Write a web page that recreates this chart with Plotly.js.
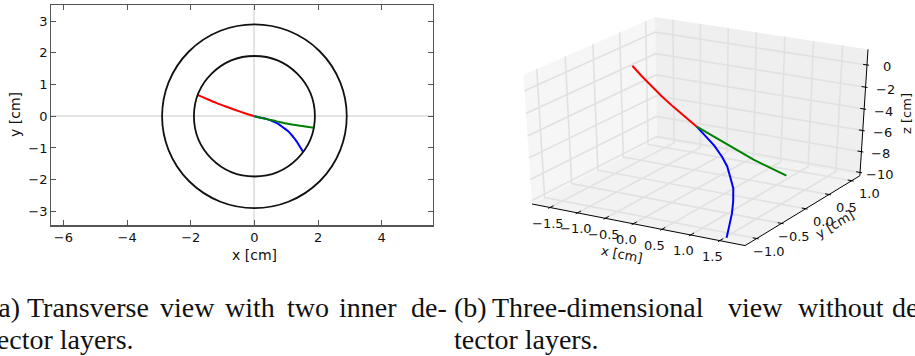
<!DOCTYPE html>
<html>
<head>
<meta charset="utf-8">
<script src="https://cdn.plot.ly/plotly-3.0.1.min.js"></script>
<style>
  html, body { margin: 0; padding: 0; background: #ffffff; }
  #chart { width: 915px; height: 356px; }
</style>
</head>
<body>
<div id="chart"></div>
<script>
// Reconstructed tracks: transverse coordinates (cm) and position along the beam axis (cm)
const redX   = [0, -0.30, -0.60, -0.90, -1.20, -1.49, -1.78];
const redY   = [0, 0.095, 0.197, 0.306, 0.421, 0.544, 0.673];
const redZ   = [-4.5, -4.08, -3.66, -3.24, -2.81, -2.39, -1.97];

const greenX = [0, 0.20, 0.39, 0.60, 0.81, 1.02, 1.23, 1.44, 1.65, 1.87];
const greenY = [0, -0.045, -0.09, -0.135, -0.19, -0.23, -0.27, -0.30, -0.33, -0.36];
const greenZ = [-4.5, -4.70, -4.89, -5.09, -5.30, -5.51, -5.72, -5.92, -6.13, -6.34];

const blueX  = [0, 0.20, 0.39, 0.60, 0.76, 0.91, 1.07, 1.21, 1.33, 1.44, 1.53];
const blueY  = [0, -0.045, -0.09, -0.17, -0.25, -0.36, -0.48, -0.64, -0.80, -0.98, -1.13];
const blueZ  = [-4.5, -5.10, -5.67, -6.32, -6.84, -7.38, -7.97, -8.58, -9.17, -9.78, -10.29];

// Inner detector layer radii (cm)
const layerRadii = [1.9, 2.9];

// Tick values / labels
const xTicks2d = [-6, -4, -2, 0, 2, 4];
const yTicks2d = [-3, -2, -1, 0, 1, 2, 3];
const xTicks3d = [-1.5, -1.0, -0.5, 0.0, 0.5, 1.0, 1.5];
const xLabels3d = ['\u22121.5', '\u22121.0', '\u22120.5', '0.0', '0.5', '1.0', '1.5'];
const yTicks3d = [-1.0, -0.5, 0.0, 0.5, 1.0];
const yLabels3d = ['\u22121.0', '\u22120.5', '0.0', '0.5', '1.0'];
const zTicks3d = [-10, -8, -6, -4, -2, 0];
const zLabels3d = ['\u221210', '\u22128', '\u22126', '\u22124', '\u22122', '0'];

// Caption text
const capA1 = ['(a)', 'Transverse', 'view', 'with', 'two', 'inner', 'de-'];
const capA2 = 'tector layers.';
const capB1 = ['(b)', 'Three-dimensional', 'view', 'without', 'de'];
const capB2 = 'tector layers.';

const W = 915, H = 356;
const px = v => v / W;
const py = v => 1 - v / H;

const sans = 'DejaVu Sans, sans-serif';
const serif = 'Liberation Serif, Times New Roman, serif';
const frame = '#555555';

// ---------- 3D box: limits, viewing angles and placement on the page ----------
const box3d = { x: [-1.829, 1.930], y: [-1.228, 1.184], z: [-10.32, 1.38] };
const view3d = { azim: -60, elev: 30, dist: 10 };
const place3d = { cx: 698.5, cy: 127.4, sx: 245.9, sy: 147.4 };

const rad = Math.PI / 180;
const az = view3d.azim * rad, el = view3d.elev * rad;
const nDir = [Math.cos(el) * Math.cos(az), Math.cos(el) * Math.sin(az), Math.sin(el)];
const uDir = [-Math.sin(az), Math.cos(az), 0];
const vDir = [
  nDir[1] * uDir[2] - nDir[2] * uDir[1],
  nDir[2] * uDir[0] - nDir[0] * uDir[2],
  nDir[0] * uDir[1] - nDir[1] * uDir[0]
];
const dot = (a, b) => a[0] * b[0] + a[1] * b[1] + a[2] * b[2];

// perspective projection of a data point to page pixels
function proj(x, y, z) {
  const q = [
    (x - box3d.x[0]) / (box3d.x[1] - box3d.x[0]) - 0.5,
    (y - box3d.y[0]) / (box3d.y[1] - box3d.y[0]) - 0.5,
    (z - box3d.z[0]) / (box3d.z[1] - box3d.z[0]) - 0.5
  ];
  const f = 1 / (1 - dot(nDir, q) / view3d.dist);
  return [place3d.cx + place3d.sx * dot(uDir, q) * f, place3d.cy - place3d.sy * dot(vDir, q) * f];
}

function polyline(points) {
  const xs = [], ys = [];
  points.forEach(p => { const s = proj(p[0], p[1], p[2]); xs.push(s[0]); ys.push(s[1]); });
  return { xs, ys };
}
function segments(list) {
  const xs = [], ys = [];
  list.forEach(seg => {
    seg.forEach(p => { xs.push(p[0]); ys.push(p[1]); });
    xs.push(null); ys.push(null);
  });
  return { xs, ys };
}

const [X0, X1] = box3d.x, [Y0, Y1] = box3d.y, [Z0, Z1] = box3d.z;

// ---------- traces ----------
const track2d = (x, y, color) => ({
  type: 'scatter', mode: 'lines', x: x, y: y, xaxis: 'x', yaxis: 'y',
  line: { color: color, width: 2, shape: 'spline', smoothing: 0.8 },
  hoverinfo: 'skip', showlegend: false
});

const on3d = (xs, ys, extra) => Object.assign({
  type: 'scatter', mode: 'lines', x: xs, y: ys, xaxis: 'x2', yaxis: 'y2',
  hoverinfo: 'skip', showlegend: false
}, extra);

const pane = (corners, color) => {
  const p = polyline(corners.concat([corners[0]]));
  return on3d(p.xs, p.ys, { fill: 'toself', fillcolor: color, line: { width: 0, color: color } });
};

const data = [
  track2d(redX, redY, '#ff0000'),
  track2d(blueX, blueY, '#0000ff'),
  track2d(greenX, greenY, '#008000')
];

// panes
data.push(pane([[X0, Y0, Z0], [X0, Y1, Z0], [X0, Y1, Z1], [X0, Y0, Z1]], '#f6f6f6'));
data.push(pane([[X0, Y1, Z0], [X1, Y1, Z0], [X1, Y1, Z1], [X0, Y1, Z1]], '#efefef'));
data.push(pane([[X0, Y0, Z0], [X1, Y0, Z0], [X1, Y1, Z0], [X0, Y1, Z0]], '#f2f2f2'));

// grid lines on the panes
const grid = [];
xTicks3d.forEach(t => {
  grid.push([proj(t, Y0, Z0), proj(t, Y1, Z0), proj(t, Y1, Z1)]);
});
yTicks3d.forEach(t => {
  grid.push([proj(X1, t, Z0), proj(X0, t, Z0), proj(X0, t, Z1)]);
});
zTicks3d.forEach(t => {
  grid.push([proj(X0, Y0, t), proj(X0, Y1, t), proj(X1, Y1, t)]);
});
const g = segments(grid);
data.push(on3d(g.xs, g.ys, { line: { color: '#e1e1e1', width: 1.6 } }));

// axis lines
const ax = segments([
  [proj(X0, Y0, Z0), proj(X1, Y0, Z0)],
  [proj(X1, Y0, Z0), proj(X1, Y1, Z0)],
  [proj(X1, Y1, Z0), proj(X1, Y1, Z1)]
]);
data.push(on3d(ax.xs, ax.ys, { line: { color: '#000000', width: 1 } }));

// tick marks: longer towards the inside of the box
function tickSeg(p, q, inward, outward) {
  const a = proj(p[0], p[1], p[2]), b = proj(q[0], q[1], q[2]);
  const dx = b[0] - a[0], dy = b[1] - a[1], L = Math.hypot(dx, dy);
  return [[a[0] - dx / L * outward, a[1] - dy / L * outward], [a[0] + dx / L * inward, a[1] + dy / L * inward]];
}
const tickList = [];
xTicks3d.forEach(t => tickList.push(tickSeg([t, Y0, Z0], [t, Y1, Z0], 4, 2)));
yTicks3d.forEach(t => tickList.push(tickSeg([X1, t, Z0], [X0, t, Z0], 4, 2)));
zTicks3d.forEach(t => tickList.push(tickSeg([X1, Y1, t], [X0, Y1, t], 4, 2)));
const tk = segments(tickList);
data.push(on3d(tk.xs, tk.ys, { line: { color: '#000000', width: 1 } }));

// tracks in 3D
[[redX, redY, redZ, '#ff0000'], [blueX, blueY, blueZ, '#0000ff'], [greenX, greenY, greenZ, '#008000']]
  .forEach(tr => {
    const pts = tr[0].map((v, i) => [v, tr[1][i], tr[2][i]]);
    const p = polyline(pts);
    data.push(on3d(p.xs, p.ys, { line: { color: tr[3], width: 2 } }));
  });

// ---------- annotations ----------
const annotations = [];
const tickFont = { family: sans, size: 13, color: '#111' };
const titleFont = { family: sans, size: 14, color: '#111' };

// axis titles of the transverse view
annotations.push({ xref: 'paper', yref: 'paper', x: px(254), y: py(255), text: 'x [cm]',
  showarrow: false, xanchor: 'center', yanchor: 'middle', font: titleFont });
annotations.push({ xref: 'paper', yref: 'paper', x: px(15), y: py(115), text: 'y [cm]', textangle: -90,
  showarrow: false, xanchor: 'center', yanchor: 'middle', font: titleFont });

// 3D tick labels
const label3d = (pt, text, dx, dy, xanchor) => {
  const s = proj(pt[0], pt[1], pt[2]);
  annotations.push({ xref: 'x2', yref: 'y2', x: s[0] + dx, y: s[1] + dy, text: text,
    showarrow: false, xanchor: xanchor, yanchor: 'middle', font: tickFont });
};
xTicks3d.forEach((t, i) => label3d([t, Y0, Z0], xLabels3d[i], -19.5, 16, 'left'));
yTicks3d.forEach((t, i) => label3d([X1, t, Z0], yLabels3d[i], 30, 13, 'right'));
zTicks3d.forEach((t, i) => label3d([X1, Y1, t], zLabels3d[i], 19.5, 2, 'center'));

// 3D axis titles
const title3d = (pt, text, dx, dy, angle) => {
  const s = proj(pt[0], pt[1], pt[2]);
  annotations.push({ xref: 'x2', yref: 'y2', x: s[0] + dx, y: s[1] + dy, text: text, textangle: angle,
    showarrow: false, xanchor: 'center', yanchor: 'middle', font: { family: sans, size: 13, color: '#111' } });
};
title3d([(X0 + X1) / 2, Y0, Z0], 'x [cm]', -14, 30, 11);
title3d([X1, (Y0 + Y1) / 2, Z0], 'y [cm]', 30, 15, -31);
title3d([X1, Y1, (Z0 + Z1) / 2], 'z [cm]', 42, -1, -90);

// captions (first lines are justified word by word)
const capA1x = [-13, 25, 158, 223, 285, 337, 409];
const capB1x = [452, 490, 726, 796, 890];
const capFont = { family: serif, size: 28, color: '#111' };
capA1.forEach((w, i) => annotations.push({ xref: 'paper', yref: 'paper', x: px(capA1x[i]), y: py(307),
  text: w, showarrow: false, xanchor: 'left', yanchor: 'middle', font: capFont }));
capB1.forEach((w, i) => annotations.push({ xref: 'paper', yref: 'paper', x: px(capB1x[i]), y: py(307),
  text: w, showarrow: false, xanchor: 'left', yanchor: 'middle', font: capFont }));
annotations.push({ xref: 'paper', yref: 'paper', x: px(-13), y: py(339), text: capA2,
  showarrow: false, xanchor: 'left', yanchor: 'middle', font: capFont });
annotations.push({ xref: 'paper', yref: 'paper', x: px(452), y: py(339), text: capB2,
  showarrow: false, xanchor: 'left', yanchor: 'middle', font: capFont });

const shapes = layerRadii.map(r => ({
  type: 'circle', xref: 'x', yref: 'y',
  x0: -r, x1: r, y0: -r, y1: r,
  line: { color: '#111111', width: 1.8 }, layer: 'above'
}));

const layout = {
  width: W, height: H,
  margin: { l: 0, r: 0, t: 0, b: 0 },
  paper_bgcolor: '#ffffff', plot_bgcolor: 'rgba(0,0,0,0)',
  showlegend: false,
  xaxis: {
    domain: [px(51.3), px(432.7)], range: [-6.38, 5.60], autorange: false,
    tickmode: 'array', tickvals: xTicks2d,
    ticks: 'inside', ticklen: 5, tickwidth: 1, tickcolor: frame,
    showline: true, linecolor: frame, linewidth: 1.2, mirror: 'ticks',
    showgrid: false, zeroline: true, zerolinecolor: '#e4e4e4', zerolinewidth: 2,
    tickfont: tickFont, anchor: 'y'
  },
  yaxis: {
    domain: [py(225.3), py(5.3)], range: [-3.44, 3.50], autorange: false,
    tickmode: 'array', tickvals: yTicks2d,
    ticks: 'inside', ticklen: 5, tickwidth: 1, tickcolor: frame,
    showline: true, linecolor: frame, linewidth: 1.2, mirror: 'ticks',
    showgrid: false, zeroline: true, zerolinecolor: '#e4e4e4', zerolinewidth: 2,
    tickfont: tickFont, anchor: 'x'
  },
  // page-pixel frame for the projected 3D view
  xaxis2: { domain: [0.5, 1], range: [W / 2, W], visible: false, anchor: 'y2', fixedrange: true },
  yaxis2: { domain: [0, 1], range: [H, 0], visible: false, anchor: 'x2', fixedrange: true },
  shapes: shapes,
  annotations: annotations
};

Plotly.newPlot('chart', data, layout, { staticPlot: true, displayModeBar: false });
</script>
</body>
</html>
